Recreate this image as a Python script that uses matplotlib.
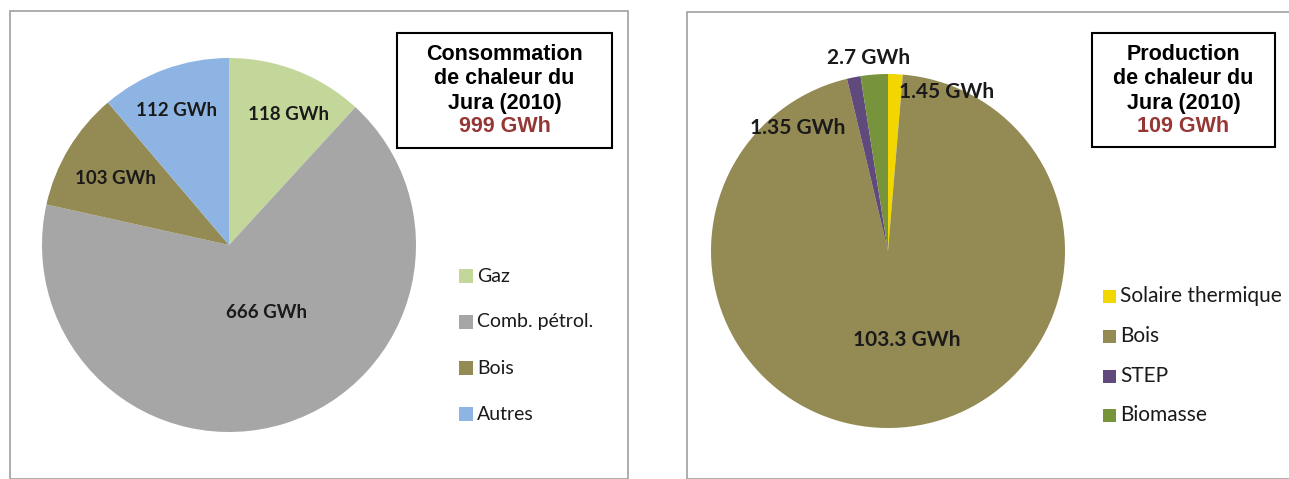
import matplotlib
matplotlib.use("Agg")
import matplotlib.pyplot as plt
from matplotlib.patches import Rectangle

# consommation (left)
cons_labels = ["Gaz", "Comb. pétrol.", "Bois", "Autres"]
cons_values = [118, 666, 103, 112]
cons_text = ["118 GWh", "666 GWh", "103 GWh", "112 GWh"]
cons_colors = ["#C4D79B", "#A6A6A6", "#948A54", "#8DB4E2"]

# production (right)
prod_labels = ["Solaire thermique", "Bois", "STEP", "Biomasse"]
prod_values = [1.45, 103.3, 1.35, 2.7]
prod_text = ["1.45 GWh", "103.3 GWh", "1.35 GWh", "2.7 GWh"]
prod_colors = ["#F2D600", "#948A54", "#604A7B", "#77933C"]

W, H = 1289, 479
fig = plt.figure(figsize=(W / 100, H / 100), dpi=100)
fig.patch.set_facecolor("white")


def px_axes(cx, cy, r):
    return fig.add_axes([(cx - r) / W, (H - cy - r) / H, 2 * r / W, 2 * r / H])


# panel frames
fig.add_artist(Rectangle((10 / W, 0), 618 / W, (H - 11) / H, transform=fig.transFigure,
                         fill=False, edgecolor="#A0A0A0", lw=1.2))
fig.add_artist(Rectangle((687 / W, 0), 700 / W, (H - 12) / H, transform=fig.transFigure,
                         fill=False, edgecolor="#A0A0A0", lw=1.2))

# left pie
ax1 = px_axes(229, 245, 187)
ax1.pie(cons_values, colors=cons_colors, startangle=90, counterclock=False,
        radius=1, wedgeprops=dict(linewidth=0))
ax1.set_xlim(-1, 1)
ax1.set_ylim(-1, 1)
ax1.set_aspect("auto")
ax1.axis("off")
cons_pos = [(288, 115), (267, 312), (115, 178), (176, 110)]
for (x, y), t in zip(cons_pos, cons_text):
    fig.text(x / W, 1 - y / H, t, ha="center", va="center", family="Lato",
             fontweight="bold", fontsize=13.5, color="#1A1A1A")

# right pie
ax2 = px_axes(888, 251, 177)
ax2.pie(prod_values, colors=prod_colors, startangle=90, counterclock=False,
        radius=1, wedgeprops=dict(linewidth=0))
ax2.set_xlim(-1, 1)
ax2.set_ylim(-1, 1)
ax2.set_aspect("auto")
ax2.axis("off")
prod_pos = [(947, 92), (907, 340), (798, 128), (869, 58)]
for (x, y), t in zip(prod_pos, prod_text):
    fig.text(x / W, 1 - y / H, t, ha="center", va="center", family="Lato",
             fontweight="bold", fontsize=15, color="#1A1A1A")


# title boxes
def title_box(x0, y0, x1, y1, lines, total):
    fig.add_artist(Rectangle((x0 / W, 1 - y1 / H), (x1 - x0) / W, (y1 - y0) / H,
                             transform=fig.transFigure, fill=True, facecolor="white",
                             edgecolor="black", lw=1.5))
    cx = (x0 + x1) / 2
    ys = [y0 + 22, y0 + 46, y0 + 70]
    for yy, ln in zip(ys, lines):
        fig.text(cx / W, 1 - yy / H, ln, ha="center", va="center", family="Liberation Sans",
                 fontweight="bold", fontsize=15.5, color="black")
    fig.text(cx / W, 1 - (y0 + 93) / H, total, ha="center", va="center",
             family="Liberation Sans", fontweight="bold", fontsize=15.5, color="#953735")


title_box(397, 33, 612, 148, ["Consommation", "de chaleur du", "Jura (2010)"], "999 GWh")
title_box(1092, 33, 1275, 147, ["Production", "de chaleur du", "Jura (2010)"], "109 GWh")


# legends
def legend(x, ys, labels, colors, size, fs):
    for yy, lab, col in zip(ys, labels, colors):
        fig.add_artist(Rectangle((x / W, 1 - (yy + size / 2) / H), size / W, size / H,
                                 transform=fig.transFigure, facecolor=col, edgecolor="none"))
        fig.text((x + size + 4) / W, 1 - yy / H, lab, ha="left", va="center",
                 family="Lato", fontsize=fs, color="#1A1A1A")


legend(459, [276, 322, 368, 414], cons_labels, cons_colors, 14, 14)
legend(1103, [296, 336, 376, 415], prod_labels, prod_colors, 13, 15)

fig.savefig("out.png", dpi=100)
